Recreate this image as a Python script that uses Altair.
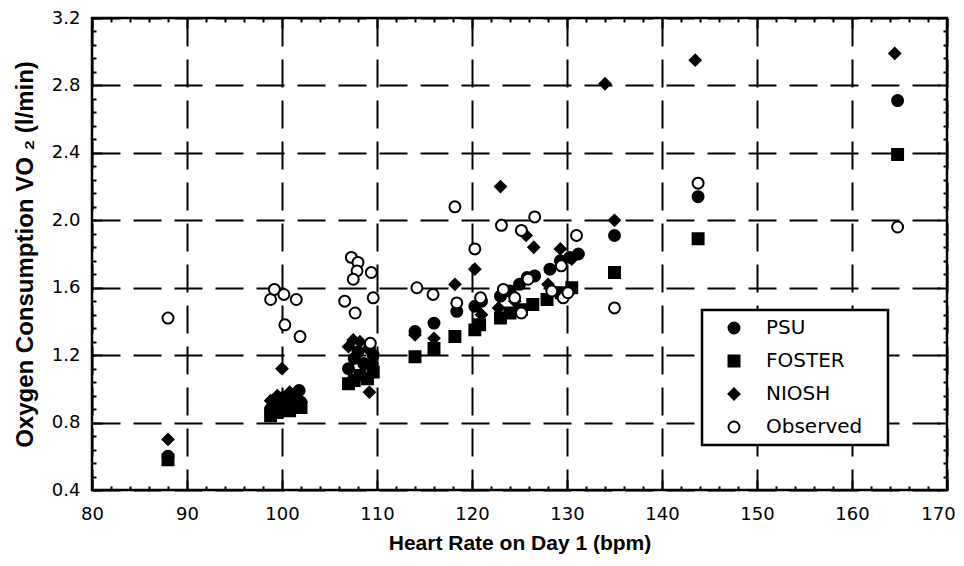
import altair as alt
import pandas as pd

# ---- data ----
psu_x = [88.0, 98.8, 99.5, 100.2, 100.8, 101.3, 101.8, 102.0, 107.0, 107.6, 108.0, 108.6, 109.2, 109.6,
         114.0, 116.0, 118.4, 120.3, 121.0, 123.0, 124.0, 125.0, 125.8, 126.6, 128.2, 129.3, 130.3, 131.2,
         135.0, 143.8, 164.8]
psu_y = [0.60, 0.88, 0.92, 0.95, 0.90, 0.97, 0.99, 0.92, 1.12, 1.18, 1.22, 1.15, 1.24, 1.20,
         1.34, 1.39, 1.46, 1.49, 1.52, 1.55, 1.58, 1.62, 1.66, 1.67, 1.71, 1.76, 1.78, 1.80,
         1.91, 2.14, 2.71]

foster_x = [88.0, 98.8, 99.5, 100.2, 100.8, 101.5, 102.0, 107.0, 107.6, 108.2, 109.0, 109.6,
            114.0, 116.0, 118.2, 120.3, 120.8, 123.0, 124.0, 125.2, 126.4, 127.9, 129.4, 130.5,
            135.0, 143.8, 164.8]
foster_y = [0.58, 0.84, 0.86, 0.88, 0.87, 0.90, 0.89, 1.03, 1.05, 1.08, 1.06, 1.10,
            1.19, 1.24, 1.31, 1.35, 1.38, 1.42, 1.45, 1.47, 1.50, 1.53, 1.57, 1.60,
            1.69, 1.89, 2.39]

niosh_x = [88.0, 98.8, 99.5, 100.0, 100.8, 101.5, 107.0, 107.5, 108.2, 109.2, 109.5,
           114.0, 116.0, 118.2, 120.3, 121.0, 122.8, 123.0, 124.5, 125.7, 126.5, 128.0, 129.3, 130.5,
           134.0, 135.0, 143.5, 164.5]
niosh_y = [0.70, 0.93, 0.96, 1.12, 0.98, 0.95, 1.25, 1.29, 1.28, 0.98, 1.15,
           1.32, 1.30, 1.62, 1.71, 1.44, 1.48, 2.20, 1.52, 1.91, 1.84, 1.62, 1.83, 1.77,
           2.81, 2.00, 2.95, 2.99]

obs_x = [88.0, 98.8, 99.2, 100.2, 101.5, 100.3, 101.9, 106.6, 107.3, 108.0, 107.9, 107.5, 109.4,
         109.6, 107.7, 109.3, 114.2, 115.9, 118.2, 120.3, 118.4, 120.9, 123.1, 125.2, 126.6, 131.0,
         123.3, 124.5, 125.9, 125.2, 128.4, 129.4, 129.6, 130.1, 135.0, 143.8, 164.8]
obs_y = [1.42, 1.53, 1.59, 1.56, 1.53, 1.38, 1.31, 1.52, 1.78, 1.75, 1.70, 1.65, 1.69,
         1.54, 1.45, 1.27, 1.60, 1.56, 2.08, 1.83, 1.51, 1.54, 1.97, 1.94, 2.02, 1.91,
         1.59, 1.54, 1.65, 1.45, 1.58, 1.73, 1.54, 1.57, 1.48, 2.22, 1.96]

series_names = ["PSU", "FOSTER", "NIOSH", "Observed"]
x_major = [80, 90, 100, 110, 120, 130, 140, 150, 160, 170]
y_major = [0.4, 0.8, 1.2, 1.6, 2.0, 2.4, 2.8, 3.2]
x_all_ticks = list(range(80, 171, 2))
y_all_ticks = [round(0.4 + 0.08 * i, 2) for i in range(36)]

rows = []
for name, xs, ys in [("PSU", psu_x, psu_y), ("FOSTER", foster_x, foster_y),
                     ("NIOSH", niosh_x, niosh_y), ("Observed", obs_x, obs_y)]:
    for a, b in zip(xs, ys):
        rows.append({"hr": a, "vo2": b, "series": name})
df = pd.DataFrame(rows)

W, H = 855, 472
FONT = "DejaVu Sans, Liberation Sans, sans-serif"
TFONT = "Liberation Sans, Arial, sans-serif"

xscale = alt.Scale(domain=[80, 170], nice=False, zero=False)
yscale = alt.Scale(domain=[0.4, 3.2], nice=False, zero=False)

leg = alt.Legend(title="__", titleOrient="right", titleColor="white", titleFontSize=12,
                 titlePadding=4,
                 orient="none", legendX=610, legendY=292,
                 strokeColor="black", fillColor="white", padding=8,
                 symbolOffset=14, labelOffset=22, rowPadding=13,
                 labelFont=FONT, labelFontSize=20, labelColor="black",
                 symbolSize=120, symbolStrokeColor="black", symbolStrokeWidth=2)

points = alt.Chart(df).mark_point(opacity=1, strokeWidth=2, size=120).encode(
    x=alt.X("hr:Q", scale=xscale,
            axis=alt.Axis(values=x_major, format="d", title="Heart Rate on Day 1 (bpm)",
                          grid=True, gridDash=[28, 13], gridColor="black", gridWidth=2,
                          ticks=False, domain=False, labelFont=FONT, labelFontSize=18,
                          labelColor="black", labelPadding=15, labelFlush=False,
                          labelOffset={"condition": {"test": "datum.value === 170", "value": -9}, "value": 0},
                          titleFont=TFONT, titleFontSize=21, titleFontWeight="bold",
                          titleColor="black", titlePadding=9)),
    y=alt.Y("vo2:Q", scale=yscale,
            axis=alt.Axis(values=y_major, format=".1f",
                          title="Oxygen Consumption VO \u2082 (l/min)",
                          grid=True, gridDash=[28, 13], gridColor="black", gridWidth=2,
                          ticks=False, domain=False, labelFont=FONT, labelFontSize=18,
                          labelColor="black", labelPadding=12, labelFlush=False,
                          titleFont=TFONT, titleFontSize=24, titleFontWeight="bold",
                          titleColor="black", titlePadding=14)),
    shape=alt.Shape("series:N", scale=alt.Scale(domain=series_names,
                    range=["circle", "square", "diamond", "circle"]), legend=leg),
    fill=alt.Fill("series:N", scale=alt.Scale(domain=series_names,
                  range=["black", "black", "black", "white"]), legend=leg),
    stroke=alt.Stroke("series:N", scale=alt.Scale(domain=series_names,
                      range=["black", "black", "black", "black"]), legend=leg),
)

xsize = {"condition": {"test": "datum.value % 10 === 0", "value": 10}, "value": 4}
ysize = {"condition": {"test": "abs(datum.value / 0.4 - round(datum.value / 0.4)) < 0.001", "value": 10}, "value": 4}

def tick_axis(orient, values, size, offset):
    return alt.Axis(orient=orient, values=values, offset=offset, labels=False, domain=False,
                    grid=False, title=None, ticks=True, tickColor="black", tickWidth=2,
                    tickSize=size)

ticks_a = alt.Chart(df).mark_point(opacity=0).encode(
    x=alt.X("hr:Q", scale=xscale, axis=tick_axis("top", x_all_ticks, xsize, -H)),
    y=alt.Y("vo2:Q", scale=yscale, axis=tick_axis("right", y_all_ticks, ysize, -W)),
)
ticks_b = alt.Chart(df).mark_point(opacity=0).encode(
    x=alt.X("hr:Q", scale=xscale, axis=tick_axis("bottom", x_all_ticks, xsize, -H)),
    y=alt.Y("vo2:Q", scale=yscale, axis=tick_axis("left", y_all_ticks, ysize, -W)),
)

chart = alt.layer(points, ticks_a, ticks_b).resolve_axis(
    x="independent", y="independent"
).properties(
    width=W, height=H,
    autosize=alt.AutoSizeParams(type="none"),
    padding={"left": 84, "top": 10, "right": 9, "bottom": 64},
    background="white",
).configure_view(
    stroke="black", strokeWidth=2.5
).configure_legend(
    strokeWidth=2.5
)

chart.save("out.html", embed_options={"renderer": "svg", "actions": False})
